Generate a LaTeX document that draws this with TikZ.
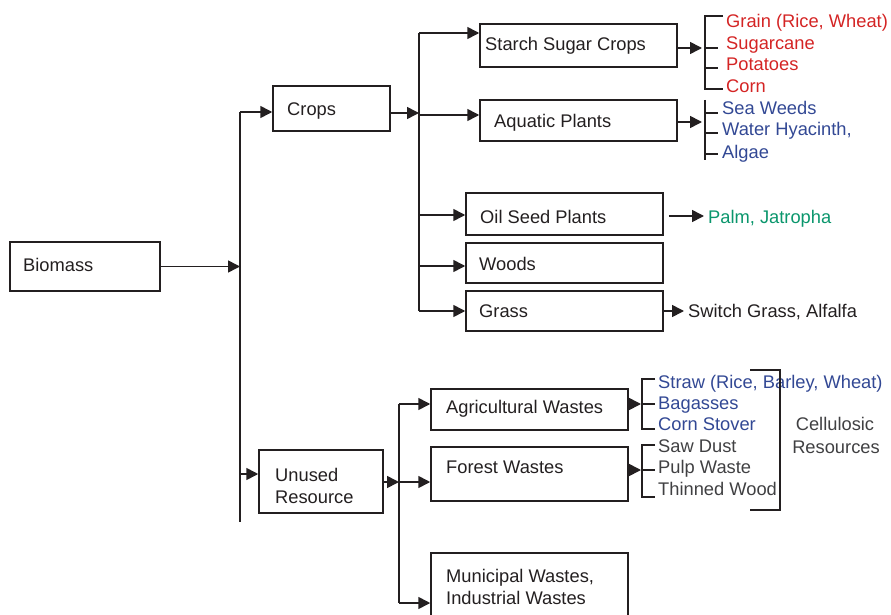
\documentclass[tikz,border=0pt]{standalone}
\usepackage{fontspec}
\setmainfont{Liberation Sans}
\usetikzlibrary{arrows.meta}
\definecolor{ink}{RGB}{35,31,32}
\definecolor{cred}{RGB}{212,36,36}
\definecolor{cblue}{RGB}{50,72,148}
\definecolor{cgreen}{RGB}{10,150,108}
\definecolor{cgray}{RGB}{64,64,66}
\begin{document}
\begin{tikzpicture}[x=1pt,y=-1pt,
  box/.style={draw=ink, line width=1.5pt, inner sep=0pt},
  txt/.style={anchor=base west, inner sep=0pt, font=\fontsize{18.3}{22}\selectfont, text=ink},
  ln/.style={draw=ink, line width=1.6pt},
  arr/.style={ln, -{Triangle[length=12pt,width=12pt]}}]
\useasboundingbox (0,0) rectangle (891,615);

% boxes
\node[box, minimum width=150pt, minimum height=49pt] (biomass) at (85,266.5) {};
\node[box, minimum width=117pt, minimum height=45pt] (crops) at (331.5,108.5) {};
\node[box, minimum width=197pt, minimum height=43pt] (starch) at (578.5,45.5) {};
\node[box, minimum width=197pt, minimum height=41pt] (aquatic) at (578.5,120.5) {};
\node[box, minimum width=197pt, minimum height=42pt] (oil) at (564.5,214) {};
\node[box, minimum width=197pt, minimum height=40pt] (woods) at (564.5,263) {};
\node[box, minimum width=197pt, minimum height=40pt] (grass) at (564.5,311) {};
\node[box, minimum width=124pt, minimum height=63pt] (unused) at (321,481.5) {};
\node[box, minimum width=197pt, minimum height=41pt] (agri) at (529.5,409.5) {};
\node[box, minimum width=197pt, minimum height=54pt] (forest) at (529.5,474) {};
\node[box, minimum width=197pt, minimum height=66pt] (muni) at (529.5,586) {};

% box texts
\node[txt] (tbiomass) at (23,271.5) {Biomass};
\node[txt] (tcrops) at (287,115.5) {Crops};
\node[txt] (tstarch) at (485,50.5) {Starch Sugar Crops};
\node[txt] (taquatic) at (494,127.5) {Aquatic Plants};
\node[txt] (toil) at (480,223.5) {Oil Seed Plants};
\node[txt] (twoods) at (479,270.5) {Woods};
\node[txt] (tgrass) at (479,317.5) {Grass};
\node[txt] (tunused1) at (275,481.5) {Unused};
\node[txt] (tunused2) at (275,503.5) {Resource};
\node[txt] (tagri) at (446,413.5) {Agricultural Wastes};
\node[txt] (tforest) at (446,473.5) {Forest Wastes};
\node[txt] (tmuni1) at (446,582.5) {Municipal Wastes,};
\node[txt] (tmuni2) at (446,604.5) {Industrial Wastes};

% leaf texts
\node[txt, text=cred] (grain) at (726,27.5) {Grain (Rice, Wheat)};
\node[txt, text=cred] (sugar) at (726,49.5) {Sugarcane};
\node[txt, text=cred] (potato) at (726,70.5) {Potatoes};
\node[txt, text=cred] (corn) at (726,92.5) {Corn};
\node[txt, text=cblue] (sea) at (722,114.5) {Sea Weeds};
\node[txt, text=cblue] (water) at (722,135.5) {Water Hyacinth,};
\node[txt, text=cblue] (algae) at (722,158.5) {Algae};
\node[txt, text=cgreen] (palm) at (708,223.5) {Palm, Jatropha};
\node[txt] (switch) at (688,317.5) {Switch Grass, Alfalfa};
\node[txt, text=cblue] (straw) at (658,388.5) {Straw (Rice, Barley, Wheat)};
\node[txt, text=cblue] (bagasse) at (658,409.5) {Bagasses};
\node[txt, text=cblue] (stover) at (658,430.5) {Corn Stover};
\node[txt, text=cgray] (saw) at (658,452.5) {Saw Dust};
\node[txt, text=cgray] (pulp) at (658,473.5) {Pulp Waste};
\node[txt, text=cgray] (thin) at (658,495.5) {Thinned Wood};
\node[txt, text=cgray, anchor=base] (cell1) at (835,430.5) {Cellulosic};
\node[txt, text=cgray, anchor=base] (cell2) at (836,453.5) {Resources};

% junction coordinates
\coordinate (ja1) at (240,112);
\coordinate (ja2) at (240,522);
\coordinate (ju) at (240,474);
\coordinate (jb) at (419,113);
\coordinate (jb1) at (419,33);
\coordinate (jb2) at (419,311);
\coordinate (jb3) at (419,115);
\coordinate (jb4) at (419,215);
\coordinate (jb5) at (419,266);
\coordinate (jc) at (399,482);
\coordinate (jc1) at (399,404);
\coordinate (jc2) at (399,603);
\coordinate (ks) at (702,48);
\coordinate (ka) at (702,122);
\coordinate (ko) at (704,216);
\coordinate (kg) at (684,311);
\coordinate (kag) at (641,404);
\coordinate (kf) at (641,470);

% main tree
\draw[ln] (ja1) -- (ja2);
\draw[arr] (biomass.east) -- (biomass.east -| ja1);
\draw[arr] (ja1) -- (ja1 -| crops.west);
\draw[arr] (ju) -- (ju -| unused.west);

\draw[arr] (crops.east |- jb) -- (jb);
\draw[ln] (jb1) -- (jb2);
\draw[arr] (jb1) -- (jb1 -| starch.west);
\draw[arr] (jb3) -- (jb3 -| aquatic.west);
\draw[arr] (jb4) -- (jb4 -| oil.west);
\draw[arr] (jb5) -- (jb5 -| woods.west);
\draw[arr] (jb2) -- (jb2 -| grass.west);

\draw[arr] (unused.east |- jc) -- (jc);
\draw[ln] (jc1) -- (jc2);
\draw[arr] (jc1) -- (jc1 -| agri.west);
\draw[arr] (jc) -- (jc -| forest.west);
\draw[arr] (jc2) -- (jc2 -| muni.west);

% outputs
\draw[arr] (starch.east |- ks) -- (ks);
\draw[arr] (aquatic.east |- ka) -- (ka);
\draw[arr, shorten <=5pt] (oil.east |- ko) -- (ko);
\draw[arr] (grass.east |- kg) -- (kg);
\draw[arr] (agri.east |- kag) -- (kag);
\draw[arr] (forest.east |- kf) -- (kf);

% brackets
\draw[ln] (723,16) -- (705,16) -- (705,89) -- (723,89);
\draw[ln] (705,48) -- (718,48);
\draw[ln] (705,68) -- (718,68);
\draw[ln] (705,100) -- (705,160);
\draw[ln] (705,113) -- (718,113);
\draw[ln] (705,133) -- (718,133);
\draw[ln] (705,154) -- (718,154);
\draw[ln] (655,379) -- (642,379) -- (642,429) -- (655,429);
\draw[ln] (642,404) -- (655,404);
\draw[ln] (655,445) -- (642,445) -- (642,497) -- (655,497);
\draw[ln] (642,470) -- (655,470);
\draw[ln] (750,370) -- (780,370) -- (780,510) -- (750,510);
\end{tikzpicture}
\end{document}
